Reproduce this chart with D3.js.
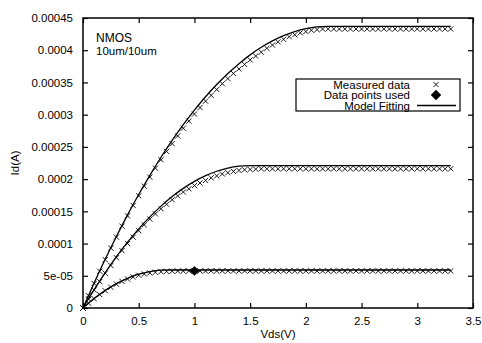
<!DOCTYPE html>
<html>
<head>
<meta charset="utf-8">
<script src="https://cdn.jsdelivr.net/npm/d3@7"></script>
<style>
  body { margin: 0; background: #fff; }
  svg text { font-family: "Liberation Sans", Arial, sans-serif; fill: #000; }
</style>
</head>
<body>
<svg id="chart" width="482" height="343"></svg>
<script>
// measured sweep, Vds in volts
const measuredVds = [0, 0.05, 0.1, 0.15, 0.2, 0.25, 0.3, 0.35, 0.4, 0.45, 0.5, 0.55, 0.6, 0.65, 0.7, 0.75, 0.8, 0.85, 0.9, 0.95,
  1, 1.05, 1.1, 1.15, 1.2, 1.25, 1.3, 1.35, 1.4, 1.45, 1.5, 1.55, 1.6, 1.65, 1.7, 1.75, 1.8, 1.85, 1.9, 1.95,
  2, 2.05, 2.1, 2.15, 2.2, 2.25, 2.3, 2.35, 2.4, 2.45, 2.5, 2.55, 2.6, 2.65, 2.7, 2.75, 2.8, 2.85, 2.9, 2.95,
  3, 3.05, 3.1, 3.15, 3.2, 3.25, 3.3];

// measured Id (A), one array per gate bias
const measuredHigh = [0, 1.9e-5, 3.8e-5, 5.7e-5, 7.5e-5, 9.3e-5, 1.10e-4, 1.27e-4, 1.43e-4, 1.59e-4, 1.74e-4, 1.89e-4, 2.03e-4, 2.17e-4, 2.30e-4, 2.43e-4, 2.55e-4, 2.67e-4, 2.79e-4, 2.90e-4,
  3.01e-4, 3.11e-4, 3.21e-4, 3.30e-4, 3.39e-4, 3.48e-4, 3.56e-4, 3.64e-4, 3.71e-4, 3.78e-4, 3.85e-4, 3.91e-4, 3.97e-4, 4.03e-4, 4.08e-4, 4.13e-4, 4.17e-4, 4.21e-4, 4.24e-4, 4.27e-4,
  4.29e-4, 4.31e-4, 4.32e-4, 4.33e-4, 4.33e-4, 4.33e-4, 4.33e-4, 4.33e-4, 4.33e-4, 4.33e-4, 4.33e-4, 4.33e-4, 4.33e-4, 4.33e-4, 4.33e-4, 4.33e-4, 4.33e-4, 4.33e-4, 4.33e-4, 4.33e-4,
  4.33e-4, 4.33e-4, 4.33e-4, 4.33e-4, 4.33e-4, 4.33e-4, 4.33e-4];
const measuredMid = [0, 1.4e-5, 2.8e-5, 4.1e-5, 5.4e-5, 6.6e-5, 7.8e-5, 8.9e-5, 1.00e-4, 1.10e-4, 1.20e-4, 1.29e-4, 1.38e-4, 1.46e-4, 1.54e-4, 1.61e-4, 1.68e-4, 1.74e-4, 1.80e-4, 1.85e-4,
  1.90e-4, 1.94e-4, 1.98e-4, 2.02e-4, 2.05e-4, 2.08e-4, 2.10e-4, 2.12e-4, 2.135e-4, 2.145e-4, 2.15e-4, 2.155e-4, 2.16e-4, 2.16e-4, 2.16e-4, 2.16e-4, 2.16e-4, 2.16e-4, 2.16e-4, 2.16e-4,
  2.16e-4, 2.16e-4, 2.16e-4, 2.16e-4, 2.16e-4, 2.16e-4, 2.16e-4, 2.16e-4, 2.16e-4, 2.16e-4, 2.16e-4, 2.16e-4, 2.16e-4, 2.16e-4, 2.16e-4, 2.16e-4, 2.16e-4, 2.16e-4, 2.16e-4, 2.16e-4,
  2.16e-4, 2.16e-4, 2.16e-4, 2.16e-4, 2.16e-4, 2.16e-4, 2.16e-4];
const measuredLow = [0, 7.4e-6, 1.44e-5, 2.08e-5, 2.68e-5, 3.22e-5, 3.70e-5, 4.13e-5, 4.50e-5, 4.82e-5, 5.08e-5, 5.28e-5, 5.44e-5, 5.55e-5, 5.63e-5, 5.68e-5, 5.71e-5, 5.73e-5, 5.74e-5, 5.75e-5,
  5.75e-5, 5.75e-5, 5.75e-5, 5.75e-5, 5.75e-5, 5.75e-5, 5.75e-5, 5.75e-5, 5.75e-5, 5.75e-5, 5.75e-5, 5.75e-5, 5.75e-5, 5.75e-5, 5.75e-5, 5.75e-5, 5.75e-5, 5.75e-5, 5.75e-5, 5.75e-5,
  5.75e-5, 5.75e-5, 5.75e-5, 5.75e-5, 5.75e-5, 5.75e-5, 5.75e-5, 5.75e-5, 5.75e-5, 5.75e-5, 5.75e-5, 5.75e-5, 5.75e-5, 5.75e-5, 5.75e-5, 5.75e-5, 5.75e-5, 5.75e-5, 5.75e-5, 5.75e-5,
  5.75e-5, 5.75e-5, 5.75e-5, 5.75e-5, 5.75e-5, 5.75e-5, 5.75e-5];

// points picked for the fit
const usedVds = [1.0];
const usedId = [5.75e-5];

// model curves
const modelVds = [0, 0.1, 0.2, 0.3, 0.4, 0.5, 0.6, 0.7, 0.8, 0.9, 1.0, 1.1, 1.2, 1.3, 1.4, 1.5, 1.6, 1.7, 1.8, 1.9, 2.0, 2.1, 2.2, 3.3];
const modelHigh = [0, 3.88e-5, 7.59e-5, 1.110e-4, 1.445e-4, 1.761e-4, 2.059e-4, 2.339e-4, 2.600e-4, 2.844e-4, 3.070e-4, 3.278e-4, 3.467e-4, 3.639e-4, 3.792e-4, 3.928e-4, 4.045e-4, 4.144e-4, 4.226e-4, 4.289e-4, 4.334e-4, 4.361e-4, 4.37e-4, 4.37e-4];
const modelMid = [0, 2.85e-5, 5.50e-5, 7.96e-5, 1.021e-4, 1.228e-4, 1.414e-4, 1.581e-4, 1.729e-4, 1.856e-4, 1.964e-4, 2.053e-4, 2.122e-4, 2.171e-4, 2.200e-4, 2.21e-4, 2.21e-4, 2.21e-4, 2.21e-4, 2.21e-4, 2.21e-4, 2.21e-4, 2.21e-4, 2.21e-4];
const modelLow = [0, 1.47e-5, 2.73e-5, 3.78e-5, 4.61e-5, 5.24e-5, 5.66e-5, 5.87e-5, 5.9e-5, 5.9e-5, 5.9e-5, 5.9e-5, 5.9e-5, 5.9e-5, 5.9e-5, 5.9e-5, 5.9e-5, 5.9e-5, 5.9e-5, 5.9e-5, 5.9e-5, 5.9e-5, 5.9e-5, 5.9e-5];

const xTicks = [0, 0.5, 1, 1.5, 2, 2.5, 3, 3.5];
const xTickLabels = ["0", "0.5", "1", "1.5", "2", "2.5", "3", "3.5"];
const yTicks = [0, 5e-5, 1e-4, 1.5e-4, 2e-4, 2.5e-4, 3e-4, 3.5e-4, 4e-4, 4.5e-4];
const yTickLabels = ["0", "5e-05", "0.0001", "0.00015", "0.0002", "0.00025", "0.0003", "0.00035", "0.0004", "0.00045"];

const legendLabels = ["Measured data", "Data points used", "Model Fitting"];

const svg = d3.select("#chart");
const plotLeft = 83, plotRight = 473, plotTop = 18, plotBottom = 308;

const x = d3.scaleLinear().domain([0, 3.5]).range([plotLeft, plotRight]);
const y = d3.scaleLinear().domain([0, 4.5e-4]).range([plotBottom, plotTop]);

// axes, gnuplot style: inward ticks mirrored on all sides
const tickLen = 5;
const axisBottom = d3.axisBottom(x).tickValues(xTicks).tickSizeInner(-tickLen).tickSizeOuter(0)
  .tickPadding(9).tickFormat((d, i) => xTickLabels[i]);
const axisTop = d3.axisTop(x).tickValues(xTicks).tickSizeInner(-tickLen).tickSizeOuter(0).tickFormat("");
const axisLeft = d3.axisLeft(y).tickValues(yTicks).tickSizeInner(-tickLen).tickSizeOuter(0)
  .tickPadding(10).tickFormat((d, i) => yTickLabels[i]);
const axisRight = d3.axisRight(y).tickValues(yTicks).tickSizeInner(-tickLen).tickSizeOuter(0).tickFormat("");

function styleAxis(g) {
  g.select(".domain").remove();
  g.selectAll(".tick line").attr("stroke", "#000").attr("stroke-width", 1.2);
  g.selectAll(".tick text").attr("font-size", 11.5).attr("font-family", "Liberation Sans, Arial, sans-serif").attr("fill", "#000");
}

svg.append("g").attr("transform", `translate(0,${plotBottom})`).call(axisBottom).call(styleAxis);
svg.append("g").attr("transform", `translate(0,${plotTop})`).call(axisTop).call(styleAxis);
svg.append("g").attr("transform", `translate(${plotLeft},0)`).call(axisLeft).call(styleAxis);
svg.append("g").attr("transform", `translate(${plotRight},0)`).call(axisRight).call(styleAxis);

svg.append("rect")
  .attr("x", plotLeft).attr("y", plotTop)
  .attr("width", plotRight - plotLeft).attr("height", plotBottom - plotTop)
  .attr("fill", "none").attr("stroke", "#000").attr("stroke-width", 1.5);

// model lines
const line = d3.line()
  .x(d => x(d[0]))
  .y(d => y(d[1]))
  .curve(d3.curveMonotoneX);

[modelHigh, modelMid, modelLow].forEach(series => {
  svg.append("path")
    .datum(modelVds.map((v, i) => [v, series[i]]))
    .attr("d", line)
    .attr("fill", "none")
    .attr("stroke", "#000")
    .attr("stroke-width", 1.3);
});

// measured points as x marks
const s = 2.6;
function cross(g, px, py) {
  g.append("path")
    .attr("d", `M${px - s},${py - s}L${px + s},${py + s}M${px - s},${py + s}L${px + s},${py - s}`)
    .attr("stroke", "#000").attr("stroke-width", 0.9).attr("fill", "none");
}
const marks = svg.append("g");
[measuredHigh, measuredMid, measuredLow].forEach(series => {
  series.forEach((v, i) => cross(marks, x(measuredVds[i]), y(v)));
});

// points used for fit
const diamond = d3.symbol().type(d3.symbolDiamond2).size(60);
usedVds.forEach((v, i) => {
  svg.append("path")
    .attr("d", diamond())
    .attr("transform", `translate(${x(v)},${y(usedId[i])})`)
    .attr("fill", "#000");
});

// annotation
svg.append("text").attr("x", 96).attr("y", 42).attr("font-size", 12).text("NMOS");
svg.append("text").attr("x", 96).attr("y", 55).attr("font-size", 11.5).text("10um/10um");

// legend
const lg = svg.append("g");
lg.append("rect").attr("x", 296).attr("y", 79).attr("width", 164).attr("height", 32)
  .attr("fill", "#fff").attr("stroke", "#000").attr("stroke-width", 1.2);
legendLabels.forEach((t, i) => {
  lg.append("text").attr("x", 410).attr("y", 88.5 + i * 10.5)
    .attr("text-anchor", "end").attr("font-size", 11.5).text(t);
});
cross(lg, 436, 84.5);
lg.append("path").attr("d", d3.symbol().type(d3.symbolDiamond2).size(70)())
  .attr("transform", "translate(436,95)").attr("fill", "#000");
lg.append("line").attr("x1", 417).attr("x2", 456).attr("y1", 105.5).attr("y2", 105.5)
  .attr("stroke", "#000").attr("stroke-width", 1.3);

// axis titles
svg.append("text").attr("x", 278).attr("y", 338).attr("text-anchor", "middle").attr("font-size", 11.5).text("Vds(V)");
svg.append("text").attr("transform", "translate(19,163) rotate(-90)").attr("text-anchor", "middle").attr("font-size", 11.5).text("Id(A)");
</script>
</body>
</html>
